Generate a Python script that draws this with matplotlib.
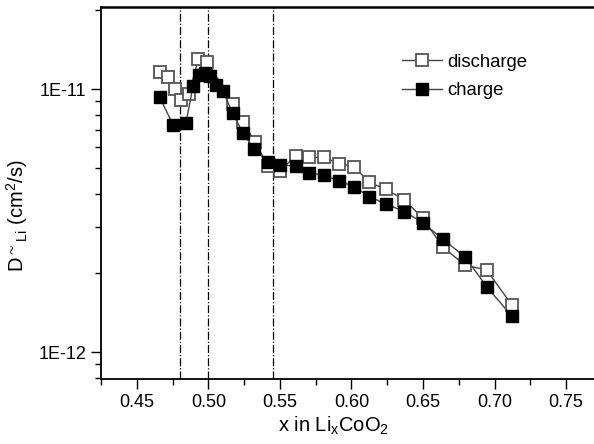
import matplotlib
matplotlib.use("Agg")
import matplotlib.pyplot as plt
from matplotlib.ticker import LogLocator, MultipleLocator, NullFormatter

plt.rcParams['font.family'] = ['Liberation Sans', 'DejaVu Sans']
plt.rcParams['mathtext.default'] = 'regular'

# discharge (open squares)
x_dis = [0.466, 0.472, 0.477, 0.481, 0.4866, 0.493, 0.4994, 0.517, 0.5243,
         0.5325, 0.5418, 0.550, 0.561, 0.5705, 0.581, 0.5913, 0.6017, 0.6124,
         0.6239, 0.637, 0.650, 0.6637, 0.6794, 0.6945, 0.712]
d_dis = [1.16e-11, 1.11e-11, 1.0e-11, 9.1e-12, 9.6e-12, 1.30e-11, 1.27e-11,
         8.8e-12, 7.5e-12, 6.3e-12, 5.1e-12, 4.9e-12, 5.55e-12, 5.5e-12,
         5.5e-12, 5.2e-12, 5.07e-12, 4.42e-12, 4.16e-12, 3.79e-12, 3.22e-12,
         2.51e-12, 2.14e-12, 2.05e-12, 1.51e-12]

# charge (filled squares)
x_chg = [0.466, 0.4754, 0.4843, 0.4894, 0.4936, 0.4976, 0.501, 0.5052, 0.5104,
         0.5169, 0.5243, 0.532, 0.5414, 0.550, 0.561, 0.5705, 0.581, 0.5913,
         0.6017, 0.6124, 0.6239, 0.637, 0.650, 0.6637, 0.6794, 0.6945, 0.712]
d_chg = [9.3e-12, 7.3e-12, 7.4e-12, 1.03e-11, 1.13e-11, 1.15e-11, 1.12e-11,
         1.04e-11, 9.8e-12, 8.1e-12, 6.8e-12, 5.9e-12, 5.3e-12, 5.15e-12,
         5.1e-12, 4.8e-12, 4.7e-12, 4.47e-12, 4.26e-12, 3.9e-12, 3.66e-12,
         3.42e-12, 3.1e-12, 2.69e-12, 2.3e-12, 1.77e-12, 1.37e-12]

vlines = [0.48, 0.50, 0.545]

fig = plt.figure(figsize=(5.94, 4.44), dpi=100)
ax = fig.add_axes([0.170, 0.1464, 0.8434, 0.8378])

for xv in vlines:
    ax.axvline(xv, color='black', linestyle='-.', linewidth=0.9, zorder=1)

ax.plot(x_dis, d_dis, color='#444444', linewidth=1.0, marker='s', markersize=8.5,
        markerfacecolor='white', markeredgecolor='#555555', markeredgewidth=1.3,
        label='discharge', zorder=2)
ax.plot(x_chg, d_chg, color='#444444', linewidth=1.0, marker='s', markersize=8.5,
        markerfacecolor='black', markeredgecolor='black',
        label='charge', zorder=3)

ax.set_yscale('log')
ax.set_xlim(0.425, 0.775)
ax.set_ylim(7.9e-13, 2.05e-11)

ax.set_yticks([1e-12, 1e-11])
ax.set_yticklabels(['1E-12', '1E-11'])
ax.yaxis.set_minor_locator(LogLocator(base=10, subs=range(2, 10)))
ax.yaxis.set_minor_formatter(NullFormatter())
ax.xaxis.set_major_locator(MultipleLocator(0.05))
ax.xaxis.set_minor_locator(MultipleLocator(0.025))
ax.xaxis.set_major_formatter(plt.FuncFormatter(lambda v, p: f"{v:.2f}"))

ax.tick_params(which='major', length=7, width=1.0, labelsize=13, direction='out')
ax.tick_params(which='minor', length=4, width=1.0, direction='out')
ax.tick_params(top=False, right=False)

for s in ax.spines.values():
    s.set_linewidth(1.3)
ax.spines['top'].set_linewidth(1.8)

ax.set_xlabel('x in Li$_x$CoO$_2$', fontsize=14.5)
ax.set_ylabel('D$^{\\sim}$$_{Li}$ (cm$^2$/s)', fontsize=14.5)
ax.xaxis.set_label_coords(0.465, -0.095)
ax.yaxis.set_label_coords(-0.142, 0.44)

ax.legend(loc='upper left', bbox_to_anchor=(0.60, 0.875), frameon=False,
          fontsize=13.3, handlelength=2.2, handletextpad=0.3, labelspacing=0.62,
          borderpad=0, borderaxespad=0)

fig.savefig('out.png', dpi=100)
